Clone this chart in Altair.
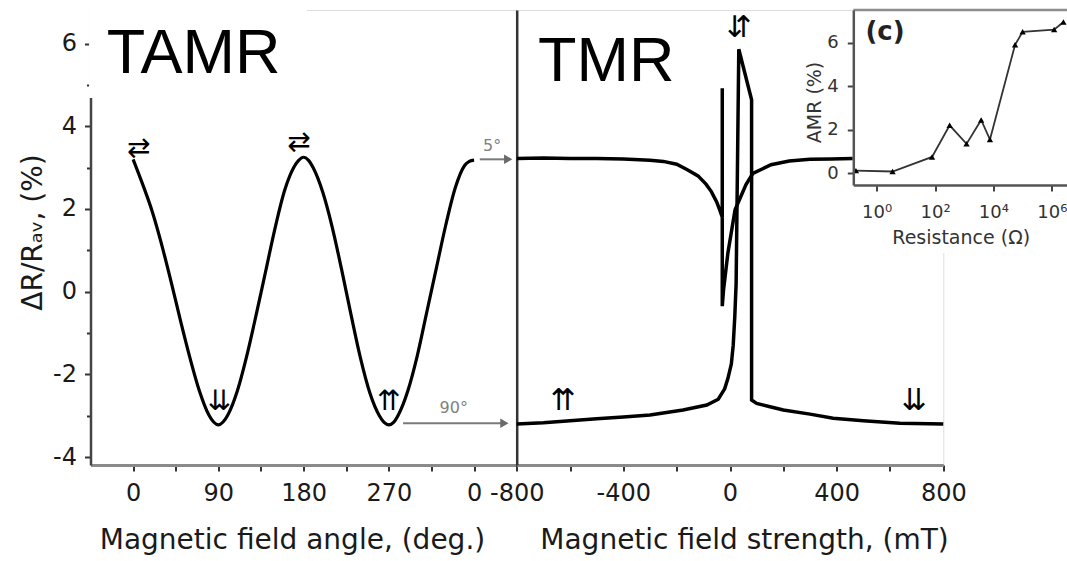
import altair as alt
import pandas as pd

# ---------------- data ----------------
# TAMR: resistance change vs magnetic field angle
tamr_angle = [0, 10, 20, 30, 40, 50, 60, 70, 80, 85, 90, 95, 100, 110, 120, 130, 140, 150, 160, 170, 175, 180, 185,
              190, 200, 210, 220, 230, 240, 250, 260, 265, 270, 275, 280, 290, 300, 310, 320, 330, 340, 350, 355, 360]
tamr_value = [3.2, 2.6, 1.95, 1.15, 0.25, -0.7, -1.6, -2.4, -2.98, -3.15, -3.22, -3.15, -2.98, -2.4, -1.55, -0.55, 0.5, 1.55, 2.45, 3.02, 3.18, 3.25, 3.18,
              3.0, 2.42, 1.58, 0.55, -0.55, -1.6, -2.45, -3.0, -3.16, -3.22, -3.16, -2.98, -2.4, -1.55, -0.5, 0.55, 1.6, 2.5, 3.05, 3.15, 3.18]

# TMR, 5 deg sweep (upper branch)
tmr5_field = [-800, -700, -600, -500, -400, -300, -250, -200, -160, -120, -90, -70, -50, -40, -29, -29, -29,
              -24, -8, 19, 60, 86, 154, 222, 300, 380, 460]
tmr5_value = [3.22, 3.23, 3.22, 3.22, 3.21, 3.18, 3.15, 3.08, 2.95, 2.8, 2.6, 2.42, 2.17, 2.0, 1.8, 4.92, -0.35,
              0.06, 0.93, 1.98, 2.59, 2.86, 3.07, 3.16, 3.2, 3.21, 3.22]

# TMR, 90 deg sweep (lower branch)
tmr90_field = [-800, -700, -600, -500, -400, -300, -176, -87, -44, -20, -8, 5, 12, 18, 23, 33, 81, 81,
               100, 150, 200, 300, 387, 500, 637, 800]
tmr90_value = [-3.2, -3.17, -3.12, -3.07, -3.03, -2.98, -2.86, -2.74, -2.6, -2.35, -2.1, -1.75, -1.3, -0.6, 0.2, 5.86, 4.64, -2.62,
               -2.7, -2.78, -2.86, -2.96, -3.06, -3.12, -3.18, -3.2]

# inset (c): AMR vs resistance
inset_res = [0.195, 3.5, 79, 316, 1200, 3800, 7600, 55000, 100000, 1200000, 2500000]
inset_amr = [0.12, 0.08, 0.75, 2.2, 1.35, 2.45, 1.55, 5.9, 6.5, 6.6, 6.95]

# spin-configuration symbols
left_sym_angle = [6, 175, 91, 270]
left_sym_value = [3.45, 3.6, -2.67, -2.67]
left_sym_text = ["⇄", "⇄", "⇊", "⇈"]
right_sym_field = [-626, 690, 34]
right_sym_value = [-2.64, -2.64, 6.38]
right_sym_text = ["⇈", "⇊", "⇵"]

# ---------------- geometry / styles ----------------
W_L = 426.2
W_R = 426.6
W = W_L + W_R
H = 455
FONT = "DejaVu Sans"
TXT = "#1a1a1a"
ydom = [-4.19, 6.81]
yscale = alt.Scale(domain=ydom, range=[H, 0], nice=False, zero=False)
xL = alt.Scale(domain=[-45, 405], range=[0, W_L], nice=False, zero=False)
xR = alt.Scale(domain=[-800, 800], range=[W_L, W], nice=False, zero=False)

axis_common = dict(labelFont=FONT, labelFontSize=24, labelColor=TXT, titleFont=FONT, titleFontSize=28,
                   titleFontWeight="normal", titleColor=TXT, tickColor="#333", tickWidth=2,
                   labelFlush=False, labelOverlap=False, grid=False)

axL_x = alt.Axis(orient="bottom", values=[0, 45, 90, 135, 180, 225, 270, 315, 360],
                 labelExpr="datum.value % 90 == 0 ? (datum.value == 360 ? '0' : '' + datum.value) : ''",
                 tickSize=6, domainColor="#8a8a8a", domainWidth=3, labelPadding=10,
                 title="Magnetic field angle, (deg.)", titleX=201.5, titleY=83, titleBaseline="alphabetic",
                 **axis_common)
axL_y = alt.Axis(orient="left", values=list(range(-4, 7)),
                 labelExpr="datum.value % 2 == 0 ? '' + datum.value : ''",
                 tickSize={"condition": {"test": "datum.value % 2 == 0", "value": 6}, "value": 4},
                 domainColor="#444", domainWidth=2.5, labelPadding=8,
                 title="ΔR/Rₐᵥ, (%)", titleX=-57.5, titleY=222, titleBaseline="middle",
                 **axis_common)
axR_x = alt.Axis(orient="bottom", values=list(range(-800, 801, 200)),
                 labelExpr="datum.value % 400 == 0 ? '' + datum.value : ''",
                 tickSize=6, domainColor="#8a8a8a", domainWidth=3, labelPadding=10,
                 title="Magnetic field strength, (mT)", titleX=W_L + 227.3, titleY=83, titleBaseline="alphabetic",
                 **axis_common)
axR_y = alt.Axis(orient="left", offset=-W_L, labels=False, ticks=False, title=None,
                 domainColor="#333", domainWidth=2.5, grid=False)


def xl(field):
    return alt.X(field, type="quantitative", scale=xL, axis=axL_x)


def yl(field):
    return alt.Y(field, type="quantitative", scale=yscale, axis=axL_y)


def xr(field):
    return alt.X(field, type="quantitative", scale=xR, axis=axR_x)


def yr(field):
    return alt.Y(field, type="quantitative", scale=yscale, axis=axR_y)


# ---------------- left panel (TAMR) ----------------
tamr_df = pd.DataFrame({"angle": tamr_angle, "v": tamr_value, "i": range(len(tamr_angle))})
tamr_line = alt.Chart(tamr_df).mark_line(color="black", strokeWidth=3.2, interpolate="monotone").encode(
    x=xl("angle"), y=yl("v"), order="i:Q")

arrow_df = pd.DataFrame({"a1": [366, 285], "a2": [396, 392], "v": [3.2, -3.18],
                         "lx": [379, 338.5], "lv": [3.52, -2.82], "lab": ["5°", "90°"]})
arrow_rules = alt.Chart(arrow_df).mark_rule(color="#7a7a7a", strokeWidth=2).encode(
    x=xl("a1"), x2="a2:Q", y=yl("v"))
arrow_heads = alt.Chart(arrow_df).mark_point(shape="triangle-right", filled=True, color="#6a6a6a",
                                             size=90, opacity=1).encode(x=xl("a2"), y=yl("v"))
arrow_labels = alt.Chart(arrow_df).mark_text(font=FONT, fontSize=16, color="#808080").encode(
    x=xl("lx"), y=yl("lv"), text="lab:N")

lsym_df = pd.DataFrame({"a": left_sym_angle, "v": left_sym_value, "t": left_sym_text})
left_syms = alt.Chart(lsym_df).mark_text(font=FONT, fontSize=28, color="black").encode(
    x=xl("a"), y=yl("v"), text="t:N")

tamr_box_df = pd.DataFrame({"a1": [-46.5], "a2": [183.4], "v1": [7.3], "v2": [4.68]})
tamr_box = alt.Chart(tamr_box_df).mark_rect(color="white").encode(
    x=xl("a1"), x2="a2:Q", y=yl("v1"), y2="v2:Q")
tamr_lab_df = pd.DataFrame({"a": [-27.8], "v": [5.28], "t": ["TAMR"]})
tamr_lab = alt.Chart(tamr_lab_df).mark_text(font="Liberation Sans", fontSize=63, align="left",
                                            baseline="alphabetic", color="black").encode(
    x=xl("a"), y=yl("v"), text="t:N")

left = alt.layer(tamr_line, arrow_rules, arrow_heads, arrow_labels, left_syms, tamr_box, tamr_lab)

# ---------------- right panel (TMR) ----------------
t5_df = pd.DataFrame({"h": tmr5_field, "v": tmr5_value, "i": range(len(tmr5_field))})
t90_df = pd.DataFrame({"h": tmr90_field, "v": tmr90_value, "i": range(len(tmr90_field))})
t5_line = alt.Chart(t5_df).mark_line(color="black", strokeWidth=3.5).encode(x=xr("h"), y=yr("v"), order="i:Q")
t90_line = alt.Chart(t90_df).mark_line(color="black", strokeWidth=3.5).encode(x=xr("h"), y=yr("v"), order="i:Q")
rsym_df = pd.DataFrame({"h": right_sym_field, "v": right_sym_value, "t": right_sym_text})
right_syms = alt.Chart(rsym_df).mark_text(font=FONT, fontSize=30, color="black").encode(
    x=xr("h"), y=yr("v"), text="t:N")
tmr_lab_df = pd.DataFrame({"h": [-720], "v": [5.09], "t": ["TMR"]})
tmr_lab = alt.Chart(tmr_lab_df).mark_text(font="Liberation Sans", fontSize=63, align="left",
                                          baseline="alphabetic", color="black").encode(
    x=xr("h"), y=yr("v"), text="t:N")
right = alt.layer(t5_line, t90_line, right_syms, tmr_lab)

# ---------------- inset (c) ----------------
ix_scale = alt.Scale(type="log", domain=[10 ** -0.8, 10 ** 6.52], range=[W_L + 336.6, W_L + 550.3], nice=False)
iy_scale = alt.Scale(domain=[-0.54, 7.5], range=[175, 0], nice=False, zero=False)
inset_axis_common = dict(labelFont=FONT, labelFontSize=18, labelColor="#333", titleFont=FONT,
                         titleFontWeight="normal", titleColor="#333", tickColor="#444", tickWidth=2,
                         domainColor="#555", domainWidth=2.5, zindex=1, grid=False,
                         labelFlush=False, labelOverlap=False)
ix_axis = alt.Axis(orient="bottom", offset=-280, values=[1, 100, 10000, 1000000],
                   labelExpr="'10' + (datum.value < 10 ? '⁰' : datum.value < 1000 ? '²' : datum.value < 100000 ? '⁴' : '⁶')",
                   tickSize=6, labelPadding=12, title="Resistance (Ω)", titleFontSize=19,
                   titleX=W_L + 444, titleY=58, titleBaseline="alphabetic", **inset_axis_common)
iy_axis = alt.Axis(orient="left", offset=-(W_L + 336.6), values=[0, 2, 4, 6], tickSize=6, labelPadding=9,
                   title="AMR (%)", titleFontSize=19, titleX=-39, titleY=92, titleBaseline="middle",
                   **inset_axis_common)


def xi(field):
    return alt.X(field, type="quantitative", scale=ix_scale, axis=ix_axis)


def yi(field):
    return alt.Y(field, type="quantitative", scale=iy_scale, axis=iy_axis)


ibg_df = pd.DataFrame({"r1": [10 ** -0.8], "r2": [10 ** 6.52], "a1": [7.5], "a2": [-3.66]})
inset_bg = alt.Chart(ibg_df).mark_rect(color="white").encode(x=xi("r1"), x2="r2:Q", y=yi("a1"), y2="a2:Q")
inset_top = alt.Chart(ibg_df).mark_rule(color="#8c8c8c", strokeWidth=2.5).encode(x=xi("r1"), x2="r2:Q", y=yi("a1"))
ins_df = pd.DataFrame({"r": inset_res, "a": inset_amr})
inset_line = alt.Chart(ins_df).mark_line(color="#333", strokeWidth=1.8).encode(x=xi("r"), y=yi("a"))
inset_pts = alt.Chart(ins_df).mark_point(shape="triangle-up", filled=True, color="black", size=40,
                                         opacity=1).encode(x=xi("r"), y=yi("a"))
clab_df = pd.DataFrame({"r": [1.93], "a": [6.49], "t": ["(c)"]})
inset_clab = alt.Chart(clab_df).mark_text(font=FONT, fontSize=26, fontWeight="bold", color="#222").encode(
    x=xi("r"), y=yi("a"), text="t:N")
inset = alt.layer(inset_bg, inset_top, inset_line, inset_pts, inset_clab)

chart = alt.layer(left, right, inset).resolve_scale(x="independent", y="independent").properties(
    width=W, height=H,
    autosize=alt.AutoSizeParams(type="none"),
    padding={"left": 90.5, "top": 10, "right": 1067 - 90.5 - W, "bottom": 561 - 10 - H},
    background="white",
).configure_view(stroke="#8c8c8c", strokeWidth=2.5).configure(font=FONT)

chart.save("out.html", embed_options={"renderer": "svg", "actions": False})
